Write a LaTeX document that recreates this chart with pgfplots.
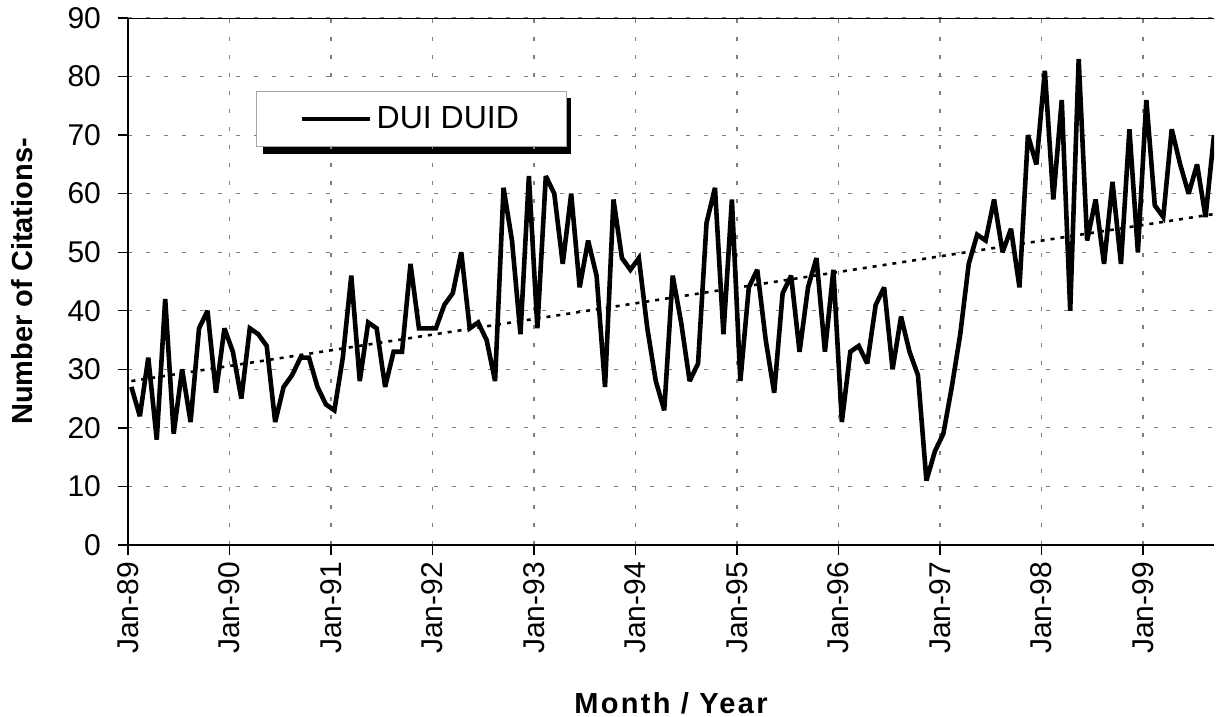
\documentclass[border=0pt]{standalone}
\usepackage{pgfplots}
\pgfplotsset{compat=1.18}
\usepackage{pgfplotstable}
\usepackage{fontspec}
\setmainfont{Liberation Sans}

\pgfplotstableread{
m v
0 27
1 22
2 32
3 18
4 42
5 19
6 30
7 21
8 37
9 40
10 26
11 37
12 33
13 25
14 37
15 36
16 34
17 21
18 27
19 29
20 32
21 32
22 27
23 24
24 23
25 32
26 46
27 28
28 38
29 37
30 27
31 33
32 33
33 48
34 37
35 37
36 37
37 41
38 43
39 50
40 37
41 38
42 35
43 28
44 61
45 52
46 36
47 63
48 37
49 63
50 60
51 48
52 60
53 44
54 52
55 46
56 27
57 59
58 49
59 47
60 49
61 37
62 28
63 23
64 46
65 38
66 28
67 31
68 55
69 61
70 36
71 59
72 28
73 44
74 47
75 35
76 26
77 43
78 46
79 33
80 44
81 49
82 33
83 47
84 21
85 33
86 34
87 31
88 41
89 44
90 30
91 39
92 33
93 29
94 11
95 16
96 19
97 27
98 36
99 48
100 53
101 52
102 59
103 50
104 54
105 44
106 70
107 65
108 81
109 59
110 76
111 40
112 83
113 52
114 59
115 48
116 62
117 48
118 71
119 50
120 76
121 58
122 56
123 71
124 65
125 60
126 65
127 56
128 70
}\dui

\begin{document}
\begin{tikzpicture}
\useasboundingbox (-64pt,-86pt) rectangle (544.5pt,272.5pt);
% legend shadow
\fill[black] (67.5pt,195.5pt) rectangle (221.5pt,223.5pt);
\begin{axis}[
  at={(0,0)}, anchor=south west,
  scale only axis, width=543pt, height=263.5pt,
  xmin=0, xmax=128.4, ymin=0, ymax=90,
  xtick={0,12,...,120},
  xticklabels={Jan-89,Jan-90,Jan-91,Jan-92,Jan-93,Jan-94,Jan-95,Jan-96,Jan-97,Jan-98,Jan-99},
  ytick={0,10,...,90},
  axis x line*=bottom, axis y line*=left,
  axis line style={-, line width=0.9pt, black},
  tick align=outside, major tick length=5pt,
  tick style={black, line width=0.7pt},
  grid=major,
  major grid style={gray, dash pattern=on 2pt off 7pt, line width=0.6pt},
  /pgf/number format/assume math mode=true,
  ticklabel style={font=\fontsize{15}{18}\selectfont},
  xticklabel style={rotate=90, anchor=east},
  yticklabel style={xshift=-5pt},
  xlabel={\fontsize{14.5}{17}\selectfont\bfseries\addfontfeature{LetterSpace=8}Month / Year},
  every axis x label/.style={at={(axis description cs:0.5,-0.3)}, anchor=center},
  ylabel={\fontsize{14.5}{17}\selectfont\bfseries Number of Citations-},
  every axis y label/.style={at={(axis description cs:-0.0976,0.5)}, anchor=center, rotate=90},
  legend style={at={(rel axis cs:0.1179,0.8615)}, anchor=north west,
    draw=gray!70, line width=0.6pt, fill=white, inner xsep=21.75pt, inner ysep=5.5pt,
    font=\fontsize{16}{19}\selectfont},
  legend cell align=left,
  legend image code/.code={\draw[line width=2.3pt] (0pt,0pt) -- (34pt,0pt);},
]
\addplot[black, line width=1.3pt, dash pattern=on 2pt off 3pt, forget plot]
  table[x expr=\thisrow{m}+0.4, y={create col/linear regression={x=m, y=v}}] {\dui};
\addplot[black, line width=2.3pt, line join=miter, miter limit=3]
  table[x expr=\thisrow{m}+0.4, y=v] {\dui};
\addlegendentry{DUI DUID}
\draw[black, line width=0.7pt] (rel axis cs:0,1) -- (rel axis cs:1,1);
\end{axis}
\end{tikzpicture}
\end{document}
